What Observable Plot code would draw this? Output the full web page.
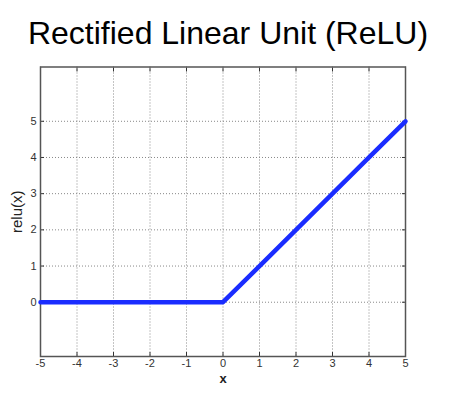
<!DOCTYPE html>
<html>
<head>
<meta charset="utf-8">
<script src="https://cdn.jsdelivr.net/npm/d3@7"></script>
<script src="https://cdn.jsdelivr.net/npm/@observablehq/plot@0.6"></script>
<style>
  body { margin: 0; background: #fff; }
  #title { height: 62px; width: 456px; text-align: center; font-family: "Liberation Sans", Arial, sans-serif; font-size: 32px; line-height: 66px; color: #000; }
  #chart svg { display: block; }
</style>
</head>
<body>
<div id="title">Rectified Linear Unit (ReLU)</div>
<div id="chart"></div>
<script>
const xValues = [-5, -4, -3, -2, -1, 0, 1, 2, 3, 4, 5];
const reluValues = [0, 0, 0, 0, 0, 0, 1, 2, 3, 4, 5];
const xTicks = [-5, -4, -3, -2, -1, 0, 1, 2, 3, 4, 5];
const yTicks = [0, 1, 2, 3, 4, 5];
const xDomain = [-5, 5];
const yDomain = [-1.5, 6.5];

const data = xValues.map((x, i) => ({x, y: reluValues[i]}));

const font = "Liberation Sans, Arial, sans-serif";
const plot = Plot.plot({
  width: 456,
  height: 345,
  marginTop: 4.5,
  marginLeft: 40,
  marginRight: 51,
  marginBottom: 51,
  style: {fontFamily: font, background: "#fff"},
  x: {domain: xDomain},
  y: {domain: yDomain},
  marks: [
    Plot.gridX(xTicks, {stroke: "#888", strokeOpacity: 1, strokeDasharray: "1,2", strokeWidth: 1}),
    Plot.gridY(yTicks, {stroke: "#888", strokeOpacity: 1, strokeDasharray: "1,2", strokeWidth: 1}),
    Plot.axisX(xTicks, {anchor: "bottom", tickSize: 0, tickPadding: 3, fontSize: 11, fill: "#333", label: null, tickFormat: d => String(d)}),
    Plot.axisX(xTicks, {anchor: "bottom", tickSize: -4, stroke: "#333", text: null, label: null}),
    Plot.axisX(xTicks, {anchor: "top", tickSize: -4, stroke: "#333", text: null, label: null}),
    Plot.axisY(yTicks, {anchor: "left", tickSize: 0, tickPadding: 4, fontSize: 11, fill: "#333", label: null}),
    Plot.axisY(yTicks, {anchor: "left", tickSize: -4, stroke: "#333", text: null, label: null}),
    Plot.axisY(yTicks, {anchor: "right", tickSize: -4, stroke: "#333", text: null, label: null}),
    Plot.axisY([], {anchor: "left", tickSize: 0, label: "relu(x)", labelAnchor: "center", labelArrow: "none", labelOffset: 29, fontSize: 15, fill: "#222"}),
    Plot.axisX([], {anchor: "bottom", tickSize: 0, label: "x", labelAnchor: "center", labelArrow: "none", labelOffset: 26, fontSize: 13, fontWeight: "bold", fill: "#222"}),
    Plot.frame({stroke: "#555", strokeWidth: 1.5}),
    Plot.line(data, {x: "x", y: "y", stroke: "#1a2cff", strokeWidth: 4.5, strokeLinejoin: "round"})
  ]
});
document.getElementById("chart").appendChild(plot);
</script>
</body>
</html>
